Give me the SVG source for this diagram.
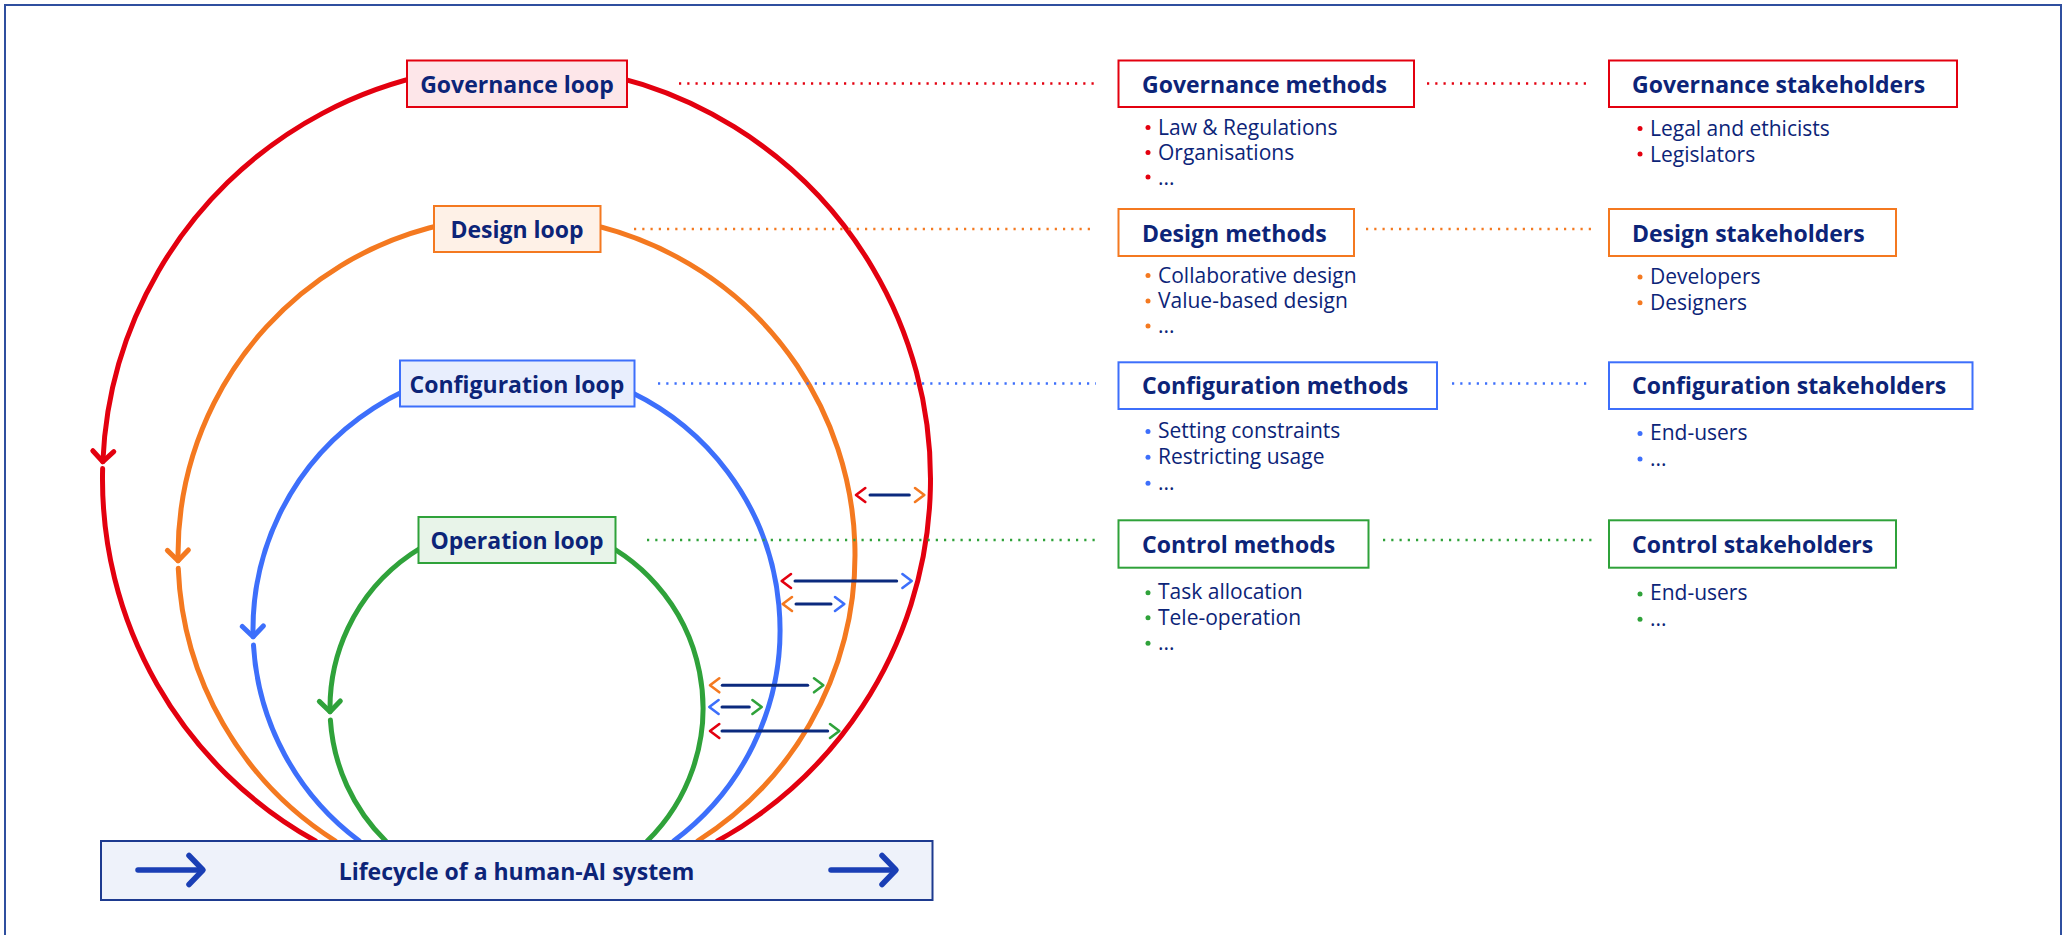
<svg xmlns="http://www.w3.org/2000/svg" width="2067" height="935" viewBox="0 0 2067 935">
  <style>
    .hd { font-family: "Open Sans", "Liberation Sans", sans-serif; font-weight: 700; font-size: 23px; fill: #0c2478; }
    .it { font-family: "Open Sans", "Liberation Sans", sans-serif; font-weight: 400; font-size: 21px; fill: #0c2478; }
    .mid { text-anchor: middle; }
    .loop { fill: none; stroke-width: 5; stroke-linecap: round; }
    .dot { fill: none; stroke-width: 2.4; stroke-dasharray: 2.2 6.05; }
    .box { fill: #ffffff; stroke-width: 2; }
    .lnk { fill: none; stroke: #0b2a7e; stroke-width: 3; stroke-linecap: round; }
    .chev { fill: none; stroke-width: 2.6; stroke-linecap: round; stroke-linejoin: round; }
    .red { stroke: #e3000f; } .org { stroke: #f47920; } .blu { stroke: #3d6ffb; } .grn { stroke: #2fa23a; }
    .bred { fill: #e3000f; } .borg { fill: #f47920; } .bblu { fill: #3d6ffb; } .bgrn { fill: #2fa23a; }
  </style>
  <defs>
    <marker id="arrRed" markerUnits="userSpaceOnUse" viewBox="-16 -16 32 32" markerWidth="32" markerHeight="32" refX="0" refY="0" orient="auto">
      <path d="M-10.5,-10.5 L0,0 L-10.5,10.5" fill="none" stroke="#e3000f" stroke-width="5" stroke-linecap="round" stroke-linejoin="round"/>
    </marker>
    <marker id="arrOrg" markerUnits="userSpaceOnUse" viewBox="-16 -16 32 32" markerWidth="32" markerHeight="32" refX="0" refY="0" orient="auto">
      <path d="M-10.5,-10.5 L0,0 L-10.5,10.5" fill="none" stroke="#f47920" stroke-width="5" stroke-linecap="round" stroke-linejoin="round"/>
    </marker>
    <marker id="arrBlu" markerUnits="userSpaceOnUse" viewBox="-16 -16 32 32" markerWidth="32" markerHeight="32" refX="0" refY="0" orient="auto">
      <path d="M-10.5,-10.5 L0,0 L-10.5,10.5" fill="none" stroke="#3d6ffb" stroke-width="5" stroke-linecap="round" stroke-linejoin="round"/>
    </marker>
    <marker id="arrGrn" markerUnits="userSpaceOnUse" viewBox="-16 -16 32 32" markerWidth="32" markerHeight="32" refX="0" refY="0" orient="auto">
      <path d="M-10.5,-10.5 L0,0 L-10.5,10.5" fill="none" stroke="#2fa23a" stroke-width="5" stroke-linecap="round" stroke-linejoin="round"/>
    </marker>
  </defs>

  <!-- outer frame -->
  <rect x="5" y="5" width="2056" height="940" fill="#ffffff" stroke="#2f4f9f" stroke-width="2"/>

  <g id="connectors">
    <!-- feedback loops: counter-clockwise circles resting on the lifecycle bar -->
    <g id="loop-governance">
      <path class="loop red" d="M717.4,841 A414,414 0 1 0 102.86,461.7" marker-end="url(#arrRed)"/>
      <path class="loop red" d="M102.63,468.5 A414,414 0 0 0 315.6,841"/>
    </g>
    <g id="loop-design">
      <path class="loop org" d="M697.57,841 A338.5,338.5 0 1 0 178.05,560.7" marker-end="url(#arrOrg)"/>
      <path class="loop org" d="M178.26,568.3 A338.5,338.5 0 0 0 335.43,841"/>
    </g>
    <g id="loop-configuration">
      <path class="loop blu" d="M673.66,841 A263.5,263.5 0 1 0 253.1,636.7" marker-end="url(#arrBlu)"/>
      <path class="loop blu" d="M253.46,645 A263.5,263.5 0 0 0 359.34,841"/>
    </g>
    <g id="loop-operation">
      <path class="loop grn" d="M647.24,841 A186.5,186.5 0 1 0 330.04,711.7" marker-end="url(#arrGrn)"/>
      <path class="loop grn" d="M330.39,720 A186.5,186.5 0 0 0 385.76,841"/>
    </g>

    <!-- dotted links from loops to methods and stakeholders -->
    <g id="dotted-links">
      <line class="dot red" x1="679" y1="83.5" x2="1096" y2="83.5"/>
      <line class="dot red" x1="1427" y1="83.5" x2="1588" y2="83.5"/>
      <line class="dot org" x1="634" y1="229" x2="1096" y2="229"/>
      <line class="dot org" x1="1366" y1="229" x2="1592" y2="229"/>
      <line class="dot blu" x1="658" y1="383.5" x2="1096" y2="383.5"/>
      <line class="dot blu" x1="1452" y1="383.5" x2="1588" y2="383.5"/>
      <line class="dot grn" x1="647" y1="540" x2="1096" y2="540"/>
      <line class="dot grn" x1="1383" y1="540" x2="1592" y2="540"/>
    </g>

    <!-- interactions between loops -->
    <g id="interactions">
      <path class="chev red" d="M865.3,488 L856,495 L865.3,502"/>
      <line class="lnk" x1="870" y1="495" x2="909.3" y2="495"/>
      <path class="chev org" d="M915,488 L924.3,495 L915,502"/>

      <path class="chev red" d="M791,574 L781.7,581 L791,588"/>
      <line class="lnk" x1="795" y1="581" x2="896.7" y2="581"/>
      <path class="chev blu" d="M902.4,574 L911.7,581 L902.4,588"/>

      <path class="chev org" d="M792,597 L782.7,604 L792,611"/>
      <line class="lnk" x1="796" y1="604" x2="831" y2="604"/>
      <path class="chev blu" d="M835,597 L844.3,604 L835,611"/>

      <path class="chev org" d="M719.3,678.3 L710,685.3 L719.3,692.3"/>
      <line class="lnk" x1="722.3" y1="685.3" x2="807.7" y2="685.3"/>
      <path class="chev grn" d="M814,678.3 L823.3,685.3 L814,692.3"/>

      <path class="chev blu" d="M718.6,700 L709.3,707 L718.6,714"/>
      <line class="lnk" x1="722" y1="707" x2="749.3" y2="707"/>
      <path class="chev grn" d="M752.4,700 L761.7,707 L752.4,714"/>

      <path class="chev red" d="M719.3,724 L710,731 L719.3,738"/>
      <line class="lnk" x1="722" y1="731" x2="827.7" y2="731"/>
      <path class="chev grn" d="M830,724 L839.3,731 L830,738"/>
    </g>
  </g>

  <!-- loop labels -->
  <g id="node-governance-loop">
    <rect x="407" y="60.5" width="220" height="46.5" fill="#fde6e9" stroke="#e3000f" stroke-width="2"/>
    <text class="hd mid" x="517" y="92.5">Governance loop</text>
  </g>
  <g id="node-design-loop">
    <rect x="434" y="206" width="166.5" height="46" fill="#fef1e7" stroke="#f47920" stroke-width="2"/>
    <text class="hd mid" x="517" y="238">Design loop</text>
  </g>
  <g id="node-configuration-loop">
    <rect x="400" y="360.5" width="234.5" height="46" fill="#e8eefd" stroke="#3d6ffb" stroke-width="2"/>
    <text class="hd mid" x="517" y="392.5">Configuration loop</text>
  </g>
  <g id="node-operation-loop">
    <rect x="418.5" y="517" width="197" height="46" fill="#e8f4e9" stroke="#2fa23a" stroke-width="2"/>
    <text class="hd mid" x="517" y="549">Operation loop</text>
  </g>

  <!-- lifecycle bar -->
  <g id="node-lifecycle">
    <rect x="101" y="841" width="831.5" height="59" fill="#eef2fa" stroke="#1d3a8f" stroke-width="2"/>
    <g fill="none" stroke="#1a3fb5" stroke-width="5.5" stroke-linecap="round" stroke-linejoin="round">
      <line x1="138" y1="870" x2="201" y2="870"/>
      <path d="M189,855.5 L203,870 L189,884.5"/>
      <line x1="831" y1="870" x2="894" y2="870"/>
      <path d="M882,855.5 L896,870 L882,884.5"/>
    </g>
    <text class="hd mid" x="516.5" y="879.5">Lifecycle of a human-AI system</text>
  </g>

  <!-- governance -->
  <g id="node-governance-methods">
    <rect class="box red" x="1118.5" y="60.5" width="295.5" height="46.5"/>
    <text class="hd" x="1142" y="92.7">Governance methods</text>
    <circle class="bred" cx="1148" cy="127.5" r="2.5"/>
    <text class="it" x="1158" y="134.5">Law &amp; Regulations</text>
    <circle class="bred" cx="1148" cy="152.5" r="2.5"/>
    <text class="it" x="1158" y="159.5">Organisations</text>
    <circle class="bred" cx="1148" cy="177" r="2.5"/>
    <text class="it" x="1158" y="185">...</text>
  </g>
  <g id="node-governance-stakeholders">
    <rect class="box red" x="1609" y="60.5" width="348" height="46.5"/>
    <text class="hd" x="1632" y="92.7">Governance stakeholders</text>
    <circle class="bred" cx="1640" cy="128.5" r="2.5"/>
    <text class="it" x="1650" y="136">Legal and ethicists</text>
    <circle class="bred" cx="1640" cy="154" r="2.5"/>
    <text class="it" x="1650" y="161.5">Legislators</text>
  </g>

  <!-- design -->
  <g id="node-design-methods">
    <rect class="box org" x="1118.5" y="209" width="235.5" height="47"/>
    <text class="hd" x="1142" y="241.5">Design methods</text>
    <circle class="borg" cx="1148" cy="275.5" r="2.5"/>
    <text class="it" x="1158" y="282.7">Collaborative design</text>
    <circle class="borg" cx="1148" cy="301" r="2.5"/>
    <text class="it" x="1158" y="308.3">Value-based design</text>
    <circle class="borg" cx="1148" cy="326" r="2.5"/>
    <text class="it" x="1158" y="333.3">...</text>
  </g>
  <g id="node-design-stakeholders">
    <rect class="box org" x="1609" y="209" width="287" height="47"/>
    <text class="hd" x="1632" y="241.5">Design stakeholders</text>
    <circle class="borg" cx="1640" cy="277" r="2.5"/>
    <text class="it" x="1650" y="284.3">Developers</text>
    <circle class="borg" cx="1640" cy="302.7" r="2.5"/>
    <text class="it" x="1650" y="310">Designers</text>
  </g>

  <!-- configuration -->
  <g id="node-configuration-methods">
    <rect class="box blu" x="1118.5" y="362.3" width="318.5" height="46.7"/>
    <text class="hd" x="1142" y="394">Configuration methods</text>
    <circle class="bblu" cx="1148" cy="431.5" r="2.5"/>
    <text class="it" x="1158" y="438.3">Setting constraints</text>
    <circle class="bblu" cx="1148" cy="457.3" r="2.5"/>
    <text class="it" x="1158" y="464">Restricting usage</text>
    <circle class="bblu" cx="1148" cy="483.3" r="2.5"/>
    <text class="it" x="1158" y="490">...</text>
  </g>
  <g id="node-configuration-stakeholders">
    <rect class="box blu" x="1609" y="362.3" width="363.5" height="46.7"/>
    <text class="hd" x="1632" y="394">Configuration stakeholders</text>
    <circle class="bblu" cx="1640" cy="433.5" r="2.5"/>
    <text class="it" x="1650" y="440">End-users</text>
    <circle class="bblu" cx="1640" cy="459" r="2.5"/>
    <text class="it" x="1650" y="466">...</text>
  </g>

  <!-- control -->
  <g id="node-control-methods">
    <rect class="box grn" x="1118.5" y="520.3" width="250" height="47.4"/>
    <text class="hd" x="1142" y="552.5">Control methods</text>
    <circle class="bgrn" cx="1148" cy="592.7" r="2.5"/>
    <text class="it" x="1158" y="599.3">Task allocation</text>
    <circle class="bgrn" cx="1148" cy="617.7" r="2.5"/>
    <text class="it" x="1158" y="625">Tele-operation</text>
    <circle class="bgrn" cx="1148" cy="643.3" r="2.5"/>
    <text class="it" x="1158" y="650">...</text>
  </g>
  <g id="node-control-stakeholders">
    <rect class="box grn" x="1609" y="520.3" width="287" height="47.4"/>
    <text class="hd" x="1632" y="552.5">Control stakeholders</text>
    <circle class="bgrn" cx="1640" cy="594" r="2.5"/>
    <text class="it" x="1650" y="600">End-users</text>
    <circle class="bgrn" cx="1640" cy="619.3" r="2.5"/>
    <text class="it" x="1650" y="626">...</text>
  </g>
</svg>
